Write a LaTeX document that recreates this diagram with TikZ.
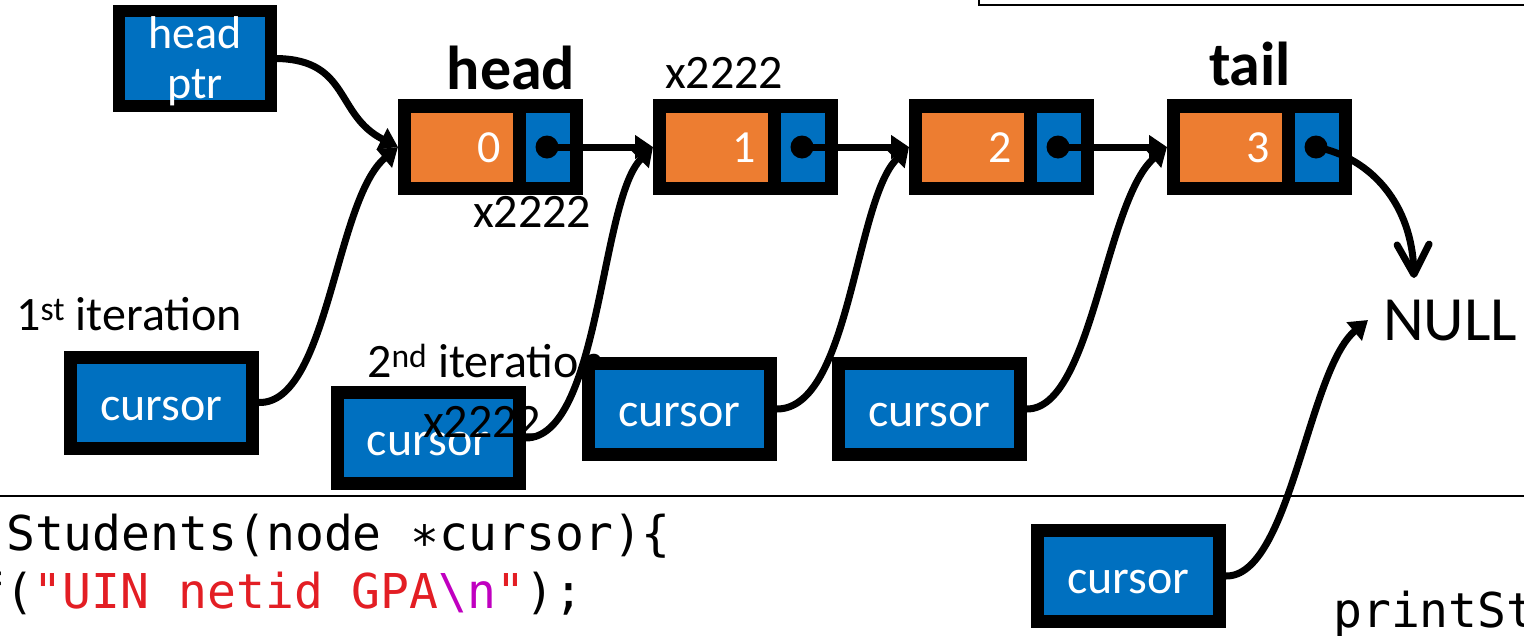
\documentclass[tikz,border=0pt]{standalone}
\usepackage{fontspec}
\setmainfont{Carlito}
\setmonofont{DejaVu Sans Mono}
\usetikzlibrary{arrows.meta}
\definecolor{cellorange}{HTML}{ED7D31}
\definecolor{cellblue}{HTML}{0070C0}
\definecolor{strred}{HTML}{E31E24}
\definecolor{escmag}{HTML}{C000C0}
\newcommand{\pxfont}[2]{\fontsize{#1}{#2}\selectfont}
\begin{document}
\begin{tikzpicture}[x=1pt,y=-1pt,
  frame/.style={fill=black, inner sep=0, outer sep=0, minimum width=185, minimum height=96},
  valcell/.style={fill=cellorange, inner sep=0, outer sep=0, minimum width=102, minimum height=69,
    text width=78, align=right, text=white, font=\pxfont{46}{50}, text height=30, text depth=0},
  ptrcell/.style={fill=cellblue, inner sep=0, outer sep=0, minimum width=44, minimum height=69},
  dot/.style={circle, fill=black, inner sep=0, minimum size=23},
  varbox/.style={draw=black, line width=13, fill=cellblue, minimum width=182, minimum height=91,
    outer sep=6.5, inner sep=0, text=white, font=\pxfont{48}{52}, text height=35, text depth=0},
  lbl/.style={inner sep=0, font=\pxfont{48}{52}},
  bold/.style={inner sep=0, font=\bfseries\pxfont{62}{66}},
  code/.style={inner sep=0, anchor=base west, font=\ttfamily\pxfont{48}{58}},
  link/.style={line width=7, -{Triangle[length=18pt,width=23pt]}},
  nulllink/.style={line width=7, -{Straight Barb[length=30pt,width=32pt,line width=7pt,round]}},
  rule/.style={line width=2}
]
\useasboundingbox (0,0) rectangle (1524,635);
\fill[white] (0,0) rectangle (1524,635);

% frame of the panel above, and the rule above the code
\draw[rule] (979,-10) rectangle (1540,5);
\draw[rule] (0,496) -- (1524,496);

% head pointer variable (the strut lowers the two lines a little)
\node[varbox, line width=12, outer sep=6, minimum width=152, minimum height=91,
  font=\pxfont{46}{50}, align=center, text height=, text depth=] (hp) at (195,58.5)
  {\rule{0pt}{38pt}head\\ptr};

% the list: value cell, pointer cell and its dot
\foreach \i/\x in {0/398,1/653,2/909,3/1167}{
  \node[frame] (n\i) at (\x+92.5,147) {};
  \node[valcell] (v\i) at (\x+64,147.5) {\i};
  \node[ptrcell] (p\i) at (\x+150,147.5) {};
  \node[dot] (d\i) at (\x+149,147) {};
}

% labels
\node[bold, anchor=base] (headlbl) at (511,89) {head};
\node[bold, anchor=base] (taillbl) at (1250,85) {tail};
\node[lbl, anchor=base west] (addr1) at (665,88) {x2222};
\node[lbl, anchor=base west] (addr0) at (473,227) {x2222};
\node[lbl, anchor=base west] (it1) at (16,330) {1\textsuperscript{st} iteration};
\node[lbl, anchor=base west] (it2) at (367,377) {2\textsuperscript{nd} iteration};
\node[inner sep=0, anchor=base west, font=\pxfont{63}{66}] (null) at (1383,340) {NULL};
\coordinate (nulltop) at (1414,278);
\coordinate (nullside) at (1368,320);

% cursor variables, one per iteration
\node[varbox] (c1) at (161.5,402.5) {cursor};
\node[varbox] (c2) at (428,438) {cursor};
\node[lbl, anchor=base west] (addr2) at (423,437) {x2222};
\node[varbox] (c3) at (679.5,409) {cursor};
\node[varbox] (c4) at (929.5,409) {cursor};
\node[varbox] (c5) at (1128.5,576) {cursor};

% code
\node[code] (code1) at (6,550) {Students(node ∗cursor)\{};
\node[code] (code2) at (-24,608) {f(\textcolor{strred}{"UIN netid GPA}\textcolor{escmag}{\textbackslash n}\textcolor{strred}{"});};
\node[code] (call) at (1333,627) {printSt};

% next links
\draw[link] (d0.center) -- (n1.west);
\draw[link] (d1.center) -- (n2.west);
\draw[link] (d2.center) -- (n3.west);
\draw[nulllink] (d3.center) .. controls (1372,158) and (1412,205) .. (nulltop);

% pointer variables
\draw[link] (hp.east) .. controls (350,60) and (335,115) .. (n0.west);
\draw[link] (c1.east) .. controls (328,404) and (335,200) .. (n0.west);
\draw[link] (c2.east) .. controls (600,438) and (600,200) .. (n1.west);
\draw[link] (c3.east) .. controls (850,409) and (855,200) .. (n2.west);
\draw[link] (c4.east) .. controls (1092,409) and (1105,200) .. (n3.west);
\draw[link] (c5.east) .. controls (1290,577) and (1308,370) .. (nullside);
\end{tikzpicture}
\end{document}
